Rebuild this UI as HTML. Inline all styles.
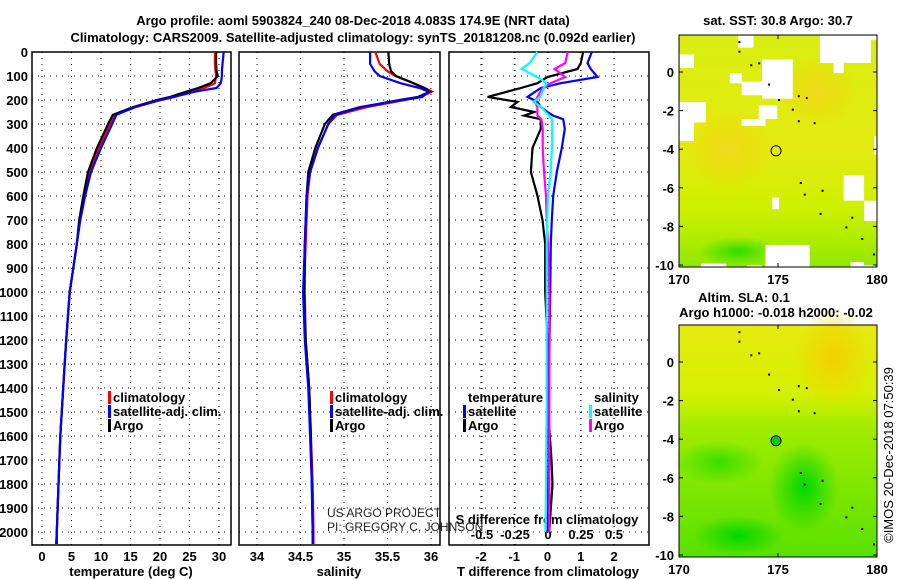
<!DOCTYPE html>
<html><head><meta charset="utf-8">
<style>
body{margin:0;background:#fff;}
svg{display:block;font-family:"Liberation Sans",sans-serif;}
.b{font-weight:bold;font-size:13px;}
</style></head>
<body>
<svg id="fig" width="900" height="580" viewBox="0 0 900 580" xmlns="http://www.w3.org/2000/svg">
<text x="353" y="25" text-anchor="middle" class="b" font-size="14.8">Argo profile: aoml 5903824_240 08-Dec-2018 4.083S 174.9E (NRT data)</text>
<text x="353" y="42" text-anchor="middle" class="b" font-size="14.8">Climatology: CARS2009. Satellite-adjusted climatology: synTS_20181208.nc (0.092d earlier)</text>
<g id="charts"></g>
<g id="maps"></g>
<text transform="translate(893,455) rotate(-90)" text-anchor="middle" font-size="13">©IMOS 20-Dec-2018 07:50:39</text>
<text x="327" y="517" font-size="12" fill="#222">US ARGO PROJECT</text>
<text x="327" y="531" font-size="12" fill="#222">PI: GREGORY C. JOHNSON</text>
</svg>
<script>
// ---- data ----
const depthTicks=[0,100,200,300,400,500,600,700,800,900,1000,1100,1200,1300,1400,1500,1600,1700,1800,1900,2000];
const tTicks=[0,5,10,15,20,25,30];
const sTicks=[34,34.5,35,35.5,36];
const dTTicks=[-2,-1,0,1,2];
const dSTicks=[-0.5,-0.25,0,0.25,0.5];
const dSLabels=["-0.5","-0.25","0","0.25","0.5"];
const lat1Ticks=[0,-2,-4,-6,-8,-10];
const lonTicks=[170,175,180];

const profDepth=[0,50,80,100,130,150,165,187,200,230,262,300,400,500,600,700,800,900,1000,1200,1400,1600,1800,2000,2050];
const tArgo=[29.5,29.5,29.6,29.8,28.6,26.5,24.5,21.7,19.5,15.4,12,11.2,9.3,7.8,7,6.3,5.9,5.3,4.7,4.1,3.6,3.1,2.8,2.5,2.5];
const tClim=[29.3,29.3,29.4,29.5,29.3,27.5,25.2,22.5,20.2,15.8,12.4,11.5,9.7,8.1,7.2,6.4,5.9,5.3,4.7,4.1,3.6,3.1,2.8,2.5,2.4];
const tSat=[30.8,30.6,30.5,30.5,30.3,29.6,26,22.3,20,15.7,12.6,11.9,10.0,8.3,7.3,6.5,5.9,5.3,4.7,4.1,3.6,3.1,2.8,2.5,2.4];
const sArgo=[35.51,35.52,35.54,35.6,35.8,35.92,35.99,35.85,35.64,35.18,34.87,34.78,34.67,34.59,34.57,34.56,34.55,34.55,34.54,34.56,34.6,34.62,34.63,34.64,34.64];
const sClim=[35.36,35.41,35.5,35.59,35.8,35.93,36.01,35.88,35.7,35.26,34.92,34.82,34.7,34.61,34.58,34.57,34.56,34.55,34.55,34.56,34.6,34.62,34.64,34.65,34.65];
const sSat=[35.3,35.3,35.35,35.41,35.65,35.87,35.97,35.9,35.67,35.2,34.9,34.82,34.7,34.61,34.57,34.56,34.55,34.54,34.53,34.55,34.59,34.61,34.63,34.64,34.64];
const dDepth=[0,46,71,104,130,150,187,208,229,250,265,280,320,400,500,600,700,800,900,1000,1200,1500,1700,1800,2000];
const dTArgo=[1.07,1.0,0.9,0,-0.3,-0.8,-1.8,-0.9,-1.1,-0.4,-0.7,-0.2,-0.2,-0.45,-0.5,-0.3,-0.15,-0.07,-0.07,-0.07,0,0.02,0.12,0.15,0.05];
const dTSat=[1.33,1.2,1.3,1.5,0.4,-0.2,-0.6,-0.3,-0.2,0,0.17,0.47,0.52,0.43,0.28,0.17,0.13,0.1,0.09,0.08,0.06,0.04,0.03,0.02,0.01];
const dSArgo=[0.15,0.13,0.05,0.13,0.02,-0.04,-0.08,-0.1,-0.08,-0.08,-0.08,-0.05,-0.04,-0.04,-0.03,-0.015,-0.01,0,0.005,0.01,0.01,0.01,0.01,0.01,0.01];
const dSSat=[-0.08,-0.14,-0.2,-0.08,-0.01,-0.03,-0.06,-0.11,-0.05,-0.02,0.01,0.03,0.03,0.03,0.02,0,-0.005,-0.01,-0.01,-0.01,-0.01,-0.01,-0.015,-0.015,-0.02];

const NS="http://www.w3.org/2000/svg";
const charts=document.getElementById('charts');
function mk(tag,attrs,parent){const e=document.createElementNS(NS,tag);for(const k in attrs)e.setAttribute(k,attrs[k]);(parent||charts).appendChild(e);return e;}
const top0=52,bot=545;
const yD=d=>top0+d*0.24;
const panels=[
 {l:32,r:231,x:v=>42+(v-0)*(219-42)/30,ticks:tTicks,name:'temperature'},
 {l:239,r:440,x:v=>257+(v-34)*87,ticks:sTicks,name:'salinity'},
 {l:449,r:649,x:v=>547.5+v*33.3,ticks:dTTicks,name:'difference'}
];
const xS=v=>548+v*132;
panels.forEach((p,i)=>{
  const g=mk('g',{});
  
  
  mk('rect',{x:p.l,y:top0,width:p.r-p.l,height:bot-top0,fill:'#fff',stroke:'#000','stroke-width':1.5},g);
  depthTicks.forEach(d=>{const l=mk('line',{x1:p.l,x2:p.r,y1:yD(d),y2:yD(d),stroke:'#000','stroke-dasharray':'1 5'},g);
    });
  const xt=i===2?dTTicks.map(p.x).concat(dSTicks.map(xS)):p.ticks.map(p.x);
  xt.forEach(x=>{const l=mk('line',{x1:x,x2:x,y1:top0,y2:bot,stroke:'#000','stroke-dasharray':'1 5'},g);
    });
  p.ticks.forEach(v=>{const t=mk('text',{x:p.x(v),y:561,'text-anchor':'middle',class:'b'},g);t.textContent=String(v);
    });
});
depthTicks.forEach(d=>{const t=mk('text',{x:28,y:yD(d)+5,'text-anchor':'end',class:'b'});t.textContent=String(d);
  });
dSTicks.forEach((v,i)=>{const t=mk('text',{x:xS(v),y:539,'text-anchor':'middle',class:'b'});t.textContent=dSLabels[i];
  });
[[131,'temperature (deg C)'],[339,'salinity'],[548,'T difference from climatology']].forEach(a=>{
  const t=mk('text',{x:a[0],y:576,'text-anchor':'middle',class:'b'});t.textContent=a[1];
  });
{const t=mk('text',{x:547,y:524,'text-anchor':'middle',class:'b'});t.textContent='S difference from climatology';
 }

function line(xs,ys,xf,col,name){
  const pts=xs.map((v,i)=>xf(v).toFixed(1)+','+yD(ys[i]).toFixed(1)).join(' ');
  const e=mk('polyline',{points:pts,fill:'none',stroke:col,'stroke-width':2.2});
  
  
}
line(tClim,profDepth,panels[0].x,'#f00','temp-climatology-line');
line(tArgo,profDepth,panels[0].x,'#000','temp-argo-line');
line(tSat,profDepth,panels[0].x,'#00f','temp-satellite-line');
line(sClim,profDepth,panels[1].x,'#f00','sal-climatology-line');
line(sArgo,profDepth,panels[1].x,'#000','sal-argo-line');
line(sSat,profDepth,panels[1].x,'#00f','sal-satellite-line');
line(dTArgo,dDepth,panels[2].x,'#000','tdiff-argo-line');
line(dTSat,dDepth,panels[2].x,'#00f','tdiff-satellite-line');
line(dSArgo,dDepth,xS,'#f0f','sdiff-argo-line');
line(dSSat,dDepth,xS,'#0ff','sdiff-satellite-line');

function legend(x,y,col,txt){
  mk('rect',{x:x-5,y:y-11,width:3,height:13,fill:col});
  const t=mk('text',{x:x,y:y,class:'b'});t.textContent=txt;
  
}
legend(113,402,'#f00','climatology');legend(113,416,'#00f','satellite-adj. clim.');legend(113,430,'#000','Argo');
legend(335,402,'#f00','climatology');legend(335,416,'#00f','satellite-adj. clim.');legend(335,430,'#000','Argo');
{const t=mk('text',{x:468,y:402,class:'b'});t.textContent='temperature';}
{const t=mk('text',{x:594,y:402,class:'b'});t.textContent='salinity';}
legend(468,416,'#00f','satellite');legend(468,430,'#000','Argo');
legend(594,416,'#0ff','satellite');legend(594,430,'#f0f','Argo');

// ---- maps ----
const maps=document.getElementById('maps');
function mapPanel(top,bottom,lat0y,isSST,title1,title2){
  const L=679,R=877,lx=v=>L+(v-170)*(R-L)/10,ly=v=>lat0y-v*19.3;
  const g=mk('g',{},maps);
  
  
  const id=isSST?'a':'b';
  const defs=mk('defs',{},g);
  const rg=mk('radialGradient',{id:'r'+id},defs);
  mk('stop',{offset:0,'stop-color':isSST?'#f0dc20':'#f4d000'},rg);mk('stop',{offset:1,'stop-color':'#f4d000','stop-opacity':0},rg);
  const rg2=mk('radialGradient',{id:'q'+id},defs);
  mk('stop',{offset:0,'stop-color':'#00d800'},rg2);mk('stop',{offset:1,'stop-color':'#00d800','stop-opacity':0},rg2);
  if(isSST){
    const lg=mk('linearGradient',{id:'g'+id,x1:0,y1:0,x2:0,y2:1},defs);
    mk('stop',{offset:0,'stop-color':'#d8ee10'},lg);mk('stop',{offset:0.5,'stop-color':'#e4ea10'},lg);
    mk('stop',{offset:0.75,'stop-color':'#cef000'},lg);mk('stop',{offset:1,'stop-color':'#90e800'},lg);
  }else{
    const lg=mk('linearGradient',{id:'g'+id,x1:0,y1:0,x2:0,y2:1},defs);
    mk('stop',{offset:0,'stop-color':'#e6ea10'},lg);mk('stop',{offset:0.3,'stop-color':'#d4f000'},lg);
    mk('stop',{offset:0.45,'stop-color':'#a0ec00'},lg);mk('stop',{offset:1,'stop-color':'#58e000'},lg);
  }
  mk('rect',{x:L,y:top,width:R-L,height:bottom-top,fill:'url(#g'+id+')'},g);
  if(isSST){
    mk('ellipse',{cx:lx(172.5),cy:ly(-4),rx:45,ry:40,fill:'url(#r'+id+')'},g);
    mk('ellipse',{cx:lx(177),cy:ly(-1),rx:40,ry:35,fill:'url(#r'+id+')'},g);
    mk('ellipse',{cx:lx(173),cy:ly(-9.3),rx:40,ry:15,fill:'url(#q'+id+')',opacity:0.7},g);
    const wh=[[58,160,100,200],[58,300,135,360],[58,360,100,415],[230,105,275,140],[205,215,240,245],[240,240,300,280],[300,175,390,290],[350,175,390,290],[290,310,345,350],[240,350,310,370],[470,105,620,185],[510,185,540,215],[620,105,650,118],[630,400,650,455],[540,515,600,590],[600,590,650,650],[330,580,350,615],[310,720,440,795],[120,775,195,800],[255,780,300,800],[560,770,600,800],[600,780,635,800]];
    const sc=2.94;
    wh.forEach(w=>mk('rect',{x:660+w[0]/sc,y:w[1]/sc,width:(w[2]-w[0])/sc,height:(w[3]-w[1])/sc,fill:'#fff'},g));
  }else{
    mk('ellipse',{cx:lx(177.8),cy:ly(0.2),rx:40,ry:50,fill:'url(#r'+id+')'},g);
    mk('ellipse',{cx:lx(176.3),cy:ly(-6.5),rx:35,ry:45,fill:'url(#q'+id+')'},g);
    mk('ellipse',{cx:lx(172),cy:ly(-5.2),rx:45,ry:22,fill:'url(#q'+id+')',opacity:0.6},g);
    mk('ellipse',{cx:lx(173),cy:ly(-9),rx:45,ry:20,fill:'url(#q'+id+')'},g);
  }
  const isl=[[173,1.6],[173,1.1],[173.6,0.4],[174,0.5],[174.5,-0.6],[175,-1.4],[175.7,-1.9],[176,-1.2],[176.4,-1.3],[176,-2.5],[176.8,-2.6],[176.1,-5.7],[176.3,-6.3],[177.2,-6.1],[177.1,-7.3],[178.7,-7.5],[178.4,-8],[179.2,-8.6],[179.8,-9.4]];
  isl.forEach(p=>mk('rect',{x:lx(p[0]),y:ly(p[1]),width:2,height:2,fill:'#000'},g));
  const c=mk('circle',{cx:lx(174.9),cy:ly(-4.083),r:5,fill:isSST?'none':'#00c820',stroke:'#000','stroke-width':1},g);
  
  mk('rect',{x:L,y:top,width:R-L,height:bottom-top,fill:'none',stroke:'#000','stroke-width':1},g);
  lat1Ticks.forEach(v=>{
    mk('line',{x1:L,x2:L+4,y1:ly(v),y2:ly(v),stroke:'#000'},g);mk('line',{x1:R-4,x2:R,y1:ly(v),y2:ly(v),stroke:'#000'},g);
    const t=mk('text',{x:674,y:ly(v)+5,'text-anchor':'end',class:'b'},g);t.textContent=String(v);
    });
  lonTicks.forEach(v=>{
    mk('line',{x1:lx(v),x2:lx(v),y1:bottom,y2:bottom-4,stroke:'#000'},g);mk('line',{x1:lx(v),x2:lx(v),y1:top,y2:top+4,stroke:'#000'},g);
    const t=mk('text',{x:lx(v),y:bottom+17,'text-anchor':'middle',class:'b'},g);t.textContent=String(v);
    });
  const t1=mk('text',{x:isSST?778:744,y:isSST?25:302,'text-anchor':'middle',class:'b','font-size':12},g);t1.textContent=title1;
  
  if(title2){const t2=mk('text',{x:776,y:317,'text-anchor':'middle',class:'b','font-size':12},g);t2.textContent=title2;
    }
}
mapPanel(35,267,72,true,'sat. SST: 30.8 Argo: 30.7',null);
mapPanel(325,557,362,false,'Altim. SLA: 0.1','Argo h1000: -0.018 h2000: -0.02');
</script>
</body></html>
